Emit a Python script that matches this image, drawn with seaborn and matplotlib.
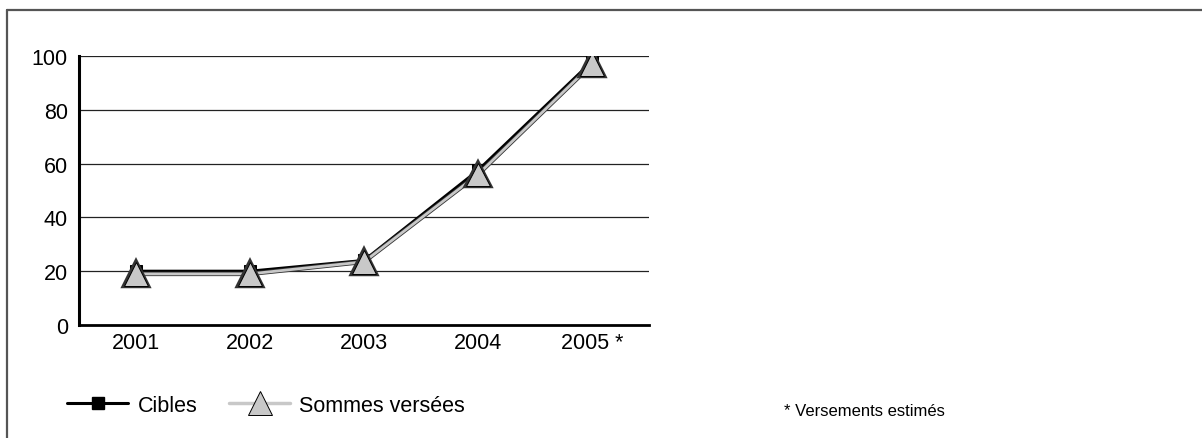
import pandas as pd
import seaborn as sns
import matplotlib.pyplot as plt
import matplotlib.patheffects as pe
from matplotlib.lines import Line2D

years = ['2001', '2002', '2003', '2004', '2005 *']
cibles = [20, 20, 24, 57.5, 98]
sommes = [19, 19, 23.5, 56, 97]
yticks = [0, 20, 40, 60, 80, 100]
footnote = '* Versements estimés'

sns.set_theme(style='white')
plt.rcParams['font.family'] = ['Liberation Sans', 'DejaVu Sans']
plt.rcParams['text.color'] = 'black'
plt.rcParams['xtick.color'] = 'black'
plt.rcParams['ytick.color'] = 'black'

df = pd.DataFrame({'pos': range(len(years)), 'Cibles': cibles, 'Sommes versées': sommes})

fig = plt.figure(figsize=(12.02, 4.39), dpi=100)
ax = fig.add_axes([0.0657, 0.2574, 0.4743, 0.6126])

# frame around the whole chart (open on right and bottom)
fig.add_artist(Line2D([0.0058, 0.0058], [0, 0.975], color='#555555', lw=1.6))
fig.add_artist(Line2D([0.0058, 1], [0.975, 0.975], color='#555555', lw=1.6))

for y in yticks[1:]:
    ax.axhline(y, color='#222222', lw=0.9, zorder=1)

sns.lineplot(data=df, x='pos', y='Cibles', ax=ax, color='black', lw=2.2,
             marker='s', markersize=9, markerfacecolor='black',
             markeredgecolor='black', zorder=3)
sns.lineplot(data=df, x='pos', y='Sommes versées', ax=ax, color='#c8c8c8', lw=2.0,
             marker='^', markersize=17, markerfacecolor='#c8c8c8',
             markeredgecolor='black', markeredgewidth=0.7, zorder=4,
             path_effects=[pe.Stroke(linewidth=3.2, foreground='#333333'), pe.Normal()])

ax.set_xlim(-0.5, len(years) - 0.5)
ax.set_ylim(0, 100)
ax.set_yticks(yticks)
ax.set_yticklabels([str(v) for v in yticks], fontsize=15.5)
ax.tick_params(axis='y', length=0, pad=8)

ax.set_xticks([i + 0.5 for i in range(len(years))])
ax.set_xticklabels([])
ax.set_xticks(range(len(years)), minor=True)
ax.set_xticklabels(years, minor=True, fontsize=15.5)
ax.tick_params(axis='x', which='major', direction='in', length=7, width=1.8, color='black')
ax.tick_params(axis='x', which='minor', length=0, pad=5)

ax.set_xlabel('')
ax.set_ylabel('')
for side in ['top', 'right']:
    ax.spines[side].set_visible(False)
ax.spines['left'].set_linewidth(2.2)
ax.spines['bottom'].set_linewidth(2.0)
ax.spines['left'].set_color('black')
ax.spines['bottom'].set_color('black')

handles = [
    Line2D([], [], color='black', lw=2.2, marker='s', markersize=9),
    Line2D([], [], color='#c8c8c8', lw=2.5, marker='^', markersize=17,
           markerfacecolor='#c8c8c8', markeredgecolor='black', markeredgewidth=0.7),
]
fig.legend(handles, ['Cibles', 'Sommes versées'], loc='center left',
           bbox_to_anchor=(0.04, 0.075), ncol=2, frameon=False, fontsize=15.5,
           handlelength=2.8, columnspacing=1.5, handletextpad=0.45)

fig.text(0.652, 0.062, footnote, fontsize=12, va='center')

fig.savefig('out.png', dpi=100)
